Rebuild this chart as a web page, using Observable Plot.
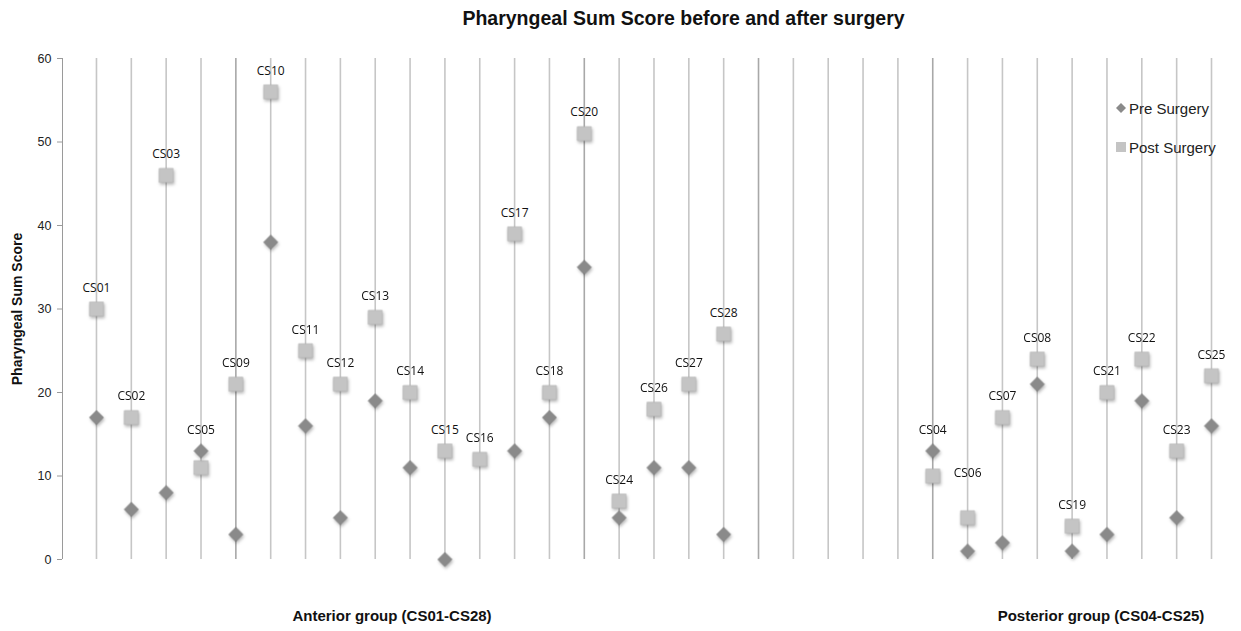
<!DOCTYPE html>
<html>
<head>
<meta charset="utf-8">
<script src="https://cdn.jsdelivr.net/npm/d3@7"></script>
<script src="https://cdn.jsdelivr.net/npm/@observablehq/plot@0.6"></script>
<style>
  body { margin: 0; background: #fff; }
  #wrap { position: relative; width: 1241px; height: 631px; overflow: hidden; font-family: "Liberation Sans", Arial, sans-serif; }
  #title { height: 36px; line-height: 36px; text-align: center; font-weight: bold; font-size: 19.5px; color: #111; padding-left: 126px; }
  .grp { position: absolute; top: 607px; font-weight: bold; font-size: 15px; color: #111; white-space: nowrap; transform: translateX(-50%); }
  .leg { position: absolute; left: 1129px; font-size: 15px; color: #222; white-space: nowrap; transform: translateY(-50%); }
  .legsym { position: absolute; }
  g.pre, g.post { filter: drop-shadow(1px 2px 1.5px rgba(0,0,0,0.28)); }
</style>
</head>
<body>
<div id="wrap">
  <div id="title">Pharyngeal Sum Score before and after surgery</div>
  <div id="chart"></div>
  <div class="grp" style="left:392px">Anterior group (CS01-CS28)</div>
  <div class="grp" style="left:1101px">Posterior group (CS04-CS25)</div>
  <svg class="legsym" style="left:1114px;top:101px" width="14" height="14"><path d="M7,2 L12,7 L7,12 L2,7 Z" fill="#8a8a8a"/></svg>
  <div class="leg" style="top:108px">Pre Surgery</div>
  <svg class="legsym" style="left:1114px;top:140px" width="14" height="14"><rect x="2" y="2" width="10" height="10" fill="#c4c4c4"/></svg>
  <div class="leg" style="top:147px">Post Surgery</div>
</div>
<script>
// ---- data ----
const anterior = ["CS01","CS02","CS03","CS05","CS09","CS10","CS11","CS12","CS13","CS14","CS15","CS16","CS17","CS18","CS20","CS24","CS26","CS27","CS28"];
const preAnterior  = [17, 6, 8, 13, 3, 38, 16, 5, 19, 11, 0, null, 13, 17, 35, 5, 11, 11, 3];
const postAnterior = [30, 17, 46, 11, 21, 56, 25, 21, 29, 20, 13, 12, 39, 20, 51, 7, 18, 21, 27];
const posterior = ["CS04","CS06","CS07","CS08","CS19","CS21","CS22","CS23","CS25"];
const prePosterior  = [13, 1, 2, 21, 1, 3, 19, 5, 16];
const postPosterior = [10, 5, 17, 24, 4, 20, 24, 13, 22];
const emptySlots = 5;            // blank category slots between the two groups
const yTicks = [0, 10, 20, 30, 40, 50, 60];
const liftedLabels = ["CS06"];   // label raised to avoid clash with neighbour

// ---- build table ----
const rows = [];
anterior.forEach((p, i) => rows.push({patient: p, slot: i, pre: preAnterior[i], post: postAnterior[i]}));
posterior.forEach((p, i) => rows.push({patient: p, slot: anterior.length + emptySlots + i, pre: prePosterior[i], post: postPosterior[i]}));
const nSlots = anterior.length + emptySlots + posterior.length;
const slots = d3.range(nSlots);
const darkSlots = [4, 14, 19, 24];
const xDomain = [-0.975, nSlots - 1];
rows.forEach(r => r.top = Math.max(r.pre ?? -Infinity, r.post));

const chart = Plot.plot({
  width: 1241,
  height: 595,
  marginTop: 22,
  marginBottom: 72,
  marginLeft: 62,
  marginRight: 30,
  style: {fontFamily: "'Liberation Sans', Arial, sans-serif", fontSize: "12px", color: "#222", background: "#fff"},
  x: {domain: xDomain, axis: null},
  y: {domain: [0, 60]},
  marks: [
    Plot.ruleX(slots.filter(s => !darkSlots.includes(s)), {x: d => d, y1: 0, y2: 60, stroke: "#c6c6c6", strokeWidth: 1.6}),
    Plot.ruleX(darkSlots, {x: d => d, y1: 0, y2: 60, stroke: "#a8a8a8", strokeWidth: 1.6}),
    Plot.ruleX([xDomain[0]], {x: d => d, y1: 0, y2: 60, stroke: "#9a9a9a", strokeWidth: 1}),
    Plot.axisY({ticks: yTicks, tickSize: 5, tickPadding: 6, stroke: "#9a9a9a", fontSize: 12.5, label: null, tickFormat: d => d}),
    Plot.text(["Pharyngeal Sum Score"], {frameAnchor: "left", textAnchor: "middle", rotate: -90, dx: -45, fontWeight: "bold", fontSize: 14, fill: "#111"}),
    Plot.dot(rows, {x: "slot", y: "post", symbol: "square", r: 7.9, fill: "#c4c4c4", stroke: "#b4b4b4", strokeWidth: 0.6, className: "post"}),
    Plot.dot(rows.filter(r => r.pre != null), {x: "slot", y: "pre", symbol: "diamond2", r: 6.4, fill: "#8a8a8a", stroke: "#777", strokeWidth: 0.6, className: "pre"}),
    Plot.text(rows.filter(r => !liftedLabels.includes(r.patient)), {x: "slot", y: "top", text: "patient", dy: -21, fontFamily: "'Open Sans', sans-serif", fontSize: 12, fill: "#111"}),
    Plot.text(rows.filter(r => liftedLabels.includes(r.patient)), {x: "slot", y: "top", text: "patient", dy: -45, fontFamily: "'Open Sans', sans-serif", fontSize: 12, fill: "#111"})
  ]
});
document.getElementById("chart").appendChild(chart);
</script>
</body>
</html>
